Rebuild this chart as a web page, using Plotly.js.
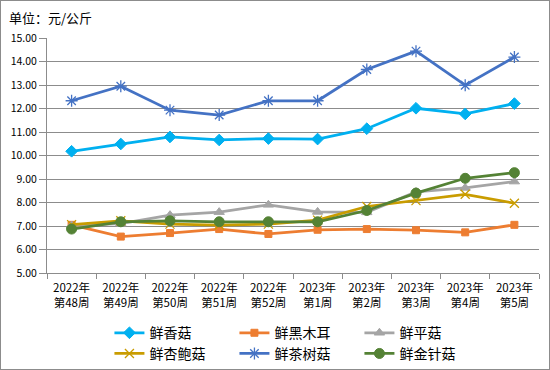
<!DOCTYPE html>
<html><head><meta charset="utf-8">
<script src="https://cdn.plot.ly/plotly-3.0.1.min.js"></script>
<style>html,body{margin:0;padding:0;background:#fff;}
#c{width:550px;height:370px;box-sizing:border-box;border:1px solid #8c8c8c;}
</style></head><body><div id="c"></div>
<script>
const categories = ["2022年<br>第48周","2022年<br>第49周","2022年<br>第50周","2022年<br>第51周","2022年<br>第52周","2023年<br>第1周","2023年<br>第2周","2023年<br>第3周","2023年<br>第4周","2023年<br>第5周"];
const xiangGu = [10.18,10.49,10.79,10.66,10.72,10.70,11.14,12.01,11.77,12.21];
const heiMuEr = [7.05,6.55,6.70,6.87,6.66,6.84,6.87,6.82,6.73,7.05];
const pingGu = [7.02,7.10,7.46,7.59,7.90,7.60,7.58,8.45,8.62,8.89];
const xingBaoGu = [7.06,7.22,7.08,7.04,7.08,7.25,7.83,8.08,8.35,7.97];
const chaShuGu = [12.33,12.95,11.93,11.72,12.33,12.33,13.66,14.44,12.99,14.19];
const jinZhenGu = [6.87,7.18,7.22,7.18,7.18,7.18,7.66,8.40,9.03,9.27];
const names = ["鲜香菇","鲜黑木耳","鲜平菇","鲜杏鲍菇","鲜茶树菇","鲜金针菇"];

function tr(name, y, color, symbol, size, leg) {
  return {x: categories, y: y, name: name, type: 'scatter', mode: 'lines+markers', legend: leg,
    line: {color: color, width: 2.75},
    marker: {color: color, symbol: symbol, size: size, line: {color: color, width: 1}}};
}
const data = [
  tr(names[0], xiangGu, '#00b0f0', 'diamond', 9, 'legend'),
  tr(names[1], heiMuEr, '#ed7d31', 'square', 7, 'legend'),
  tr(names[2], pingGu, '#a5a5a5', 'triangle-up', 9, 'legend'),
  tr(names[3], xingBaoGu, '#c99c00', 'x-thin-open', 9, 'legend2'),
  tr(names[4], chaShuGu, '#4472c4', 'asterisk-open', 10, 'legend2'),
  tr(names[5], jinZhenGu, '#548235', 'circle', 10, 'legend2')
];
data[3].marker.line.width = 1.3;
data[4].marker.line.width = 1.3;

const legBase = {orientation: 'h', x: 0.508, xanchor: 'center', yanchor: 'top',
  entrywidth: 80, font: {size: 14}, itemwidth: 30, tracegroupgap: 0, bgcolor: 'rgba(0,0,0,0)'};

const layout = {
  width: 548, height: 368,
  margin: {l: 46, r: 10, t: 37, b: 96, autoexpand: false},
  paper_bgcolor: '#fff', plot_bgcolor: '#fff',
  font: {family: '"Noto Sans CJK SC", "DejaVu Sans", sans-serif', color: '#000', size: 11},
  showlegend: true,
  legend: Object.assign({}, legBase, {y: -0.188}),
  legend2: Object.assign({}, legBase, {y: -0.276}),
  xaxis: {type: 'category', range: [-0.5, 9.5], tickson: 'boundaries',
    showgrid: false, zeroline: false, showline: true, linecolor: '#8c8c8c', linewidth: 1,
    ticks: 'outside', ticklen: 5, tickcolor: '#8c8c8c', tickfont: {size: 11.5}, ticklabelstandoff: 4},
  yaxis: {range: [5, 15], dtick: 1, tickformat: '.2f', showgrid: true, gridcolor: '#8c8c8c', gridwidth: 1,
    zeroline: false, showline: true, linecolor: '#8c8c8c', ticks: 'outside', ticklen: 7, tickcolor: '#8c8c8c',
    tickfont: {size: 10.5}},
  annotations: [{text: '单位：元/公斤', xref: 'paper', yref: 'paper', x: -0.082, y: 1.087, xanchor: 'left', yanchor: 'middle',
    showarrow: false, font: {size: 13}}]
};
Plotly.newPlot('c', data, layout, {displayModeBar: false});
</script></body></html>
